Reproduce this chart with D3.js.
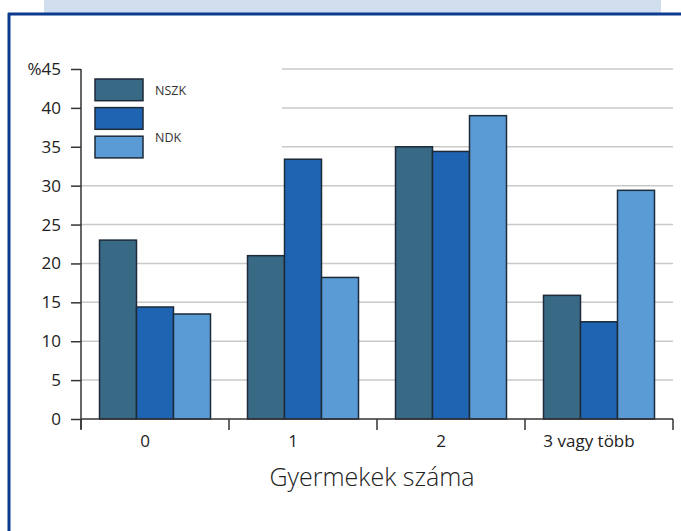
<!DOCTYPE html>
<html>
<head>
<meta charset="utf-8">
<script src="https://cdn.jsdelivr.net/npm/d3@7"></script>
<style>
  html, body { margin: 0; padding: 0; background: #fff; }
  svg { display: block; }
  text { font-family: "Open Sans", "Noto Sans", sans-serif; }
</style>
</head>
<body>
<svg id="chart" width="681" height="531"></svg>
<script>
// ---- data ----
const categories = ["0", "1", "2", "3 vagy több"];
const seriesNames = ["NSZK", "", "NDK"];
const nszk   = [23, 21, 35, 15.9];
const middle = [14.4, 33.4, 34.4, 12.5];
const ndk    = [13.5, 18.2, 39, 29.4];
const yTicks = [0, 5, 10, 15, 20, 25, 30, 35, 40, 45];
const yTickLabels = ["0", "5", "10", "15", "20", "25", "30", "35", "40", "%45"];
const xTitle = "Gyermekek száma";

const series = [nszk, middle, ndk];
const colors = ["#386985", "#1f64b2", "#5a9bd6"];

const svg = d3.select("#chart");

// decorative frame
svg.append("rect").attr("x", 44).attr("y", 0).attr("width", 617).attr("height", 13).attr("fill", "#d1deed");
svg.append("line").attr("x1", 8).attr("x2", 681).attr("y1", 14).attr("y2", 14)
  .attr("stroke", "#0c3a8e").attr("stroke-width", 3);
svg.append("line").attr("x1", 9).attr("x2", 9).attr("y1", 13).attr("y2", 531)
  .attr("stroke", "#0c3a8e").attr("stroke-width", 3);

const x0 = 81, x1 = 673, yBase = 419, yTop = 69;
const x = d3.scaleBand().domain(categories).range([x0, x1]).paddingInner(0.25).paddingOuter(0.125);
const xs = d3.scaleBand().domain(d3.range(series.length)).range([0, x.bandwidth()]);
const y = d3.scaleLinear().domain([0, 45]).range([yBase, yTop]);

// gridlines
const legendRight = 282;
svg.append("g").selectAll("line").data(yTicks.filter(t => t > 0)).join("line")
  .attr("x1", d => d >= 35 ? legendRight : x0)
  .attr("x2", x1)
  .attr("y1", d => y(d)).attr("y2", d => y(d))
  .attr("stroke", "#c9c9c9").attr("stroke-width", 1.5);

// bars
const groups = svg.append("g").selectAll("g").data(categories).join("g")
  .attr("transform", d => `translate(${x(d)},0)`);
groups.selectAll("rect").data((d, i) => series.map((s, k) => ({k, v: s[i]}))).join("rect")
  .attr("x", d => xs(d.k))
  .attr("width", xs.bandwidth())
  .attr("y", d => y(d.v))
  .attr("height", d => yBase - y(d.v))
  .attr("fill", d => colors[d.k])
  .attr("stroke", "#1d2a38").attr("stroke-width", 1.5);

// y axis
const yAxis = d3.axisLeft(y).tickValues(yTicks).tickSize(10)
  .tickFormat((d, i) => yTickLabels[i]).tickPadding(10);
const gy = svg.append("g").attr("transform", `translate(${x0},0)`).call(yAxis);
gy.select(".domain").remove();
gy.append("line").attr("x1", 0).attr("x2", 0).attr("y1", yTop).attr("y2", yBase + 10)
  .attr("stroke", "#333").attr("stroke-width", 1.5);
gy.selectAll(".tick line").attr("stroke", "#333").attr("stroke-width", 1.5);
gy.selectAll(".tick text").attr("font-size", 17).attr("fill", "#222");

// x axis
const xTickScale = d3.scaleLinear().domain([0, categories.length]).range([x0, x1]);
const gx = svg.append("g");
gx.append("line").attr("x1", x0).attr("x2", x1).attr("y1", yBase).attr("y2", yBase)
  .attr("stroke", "#333").attr("stroke-width", 1.5);
gx.selectAll("line.t").data(d3.range(categories.length + 1)).join("line").attr("class", "t")
  .attr("x1", d => xTickScale(d)).attr("x2", d => xTickScale(d))
  .attr("y1", yBase).attr("y2", yBase + 11)
  .attr("stroke", "#333").attr("stroke-width", 1.5);
gx.selectAll("text").data(categories).join("text")
  .attr("x", d => x(d) + x.bandwidth() / 2 - 10).attr("y", 447)
  .attr("text-anchor", "middle").attr("font-size", 17).attr("fill", "#222")
  .text(d => d);

svg.append("text").attr("x", (x0 + x1) / 2 - 5).attr("y", 486)
  .attr("text-anchor", "middle").attr("font-size", 25).attr("font-weight", 300).attr("fill", "#222")
  .text(xTitle);

// legend
const lg = svg.append("g");
const swTop = 79, swStep = 28.6, swH = 21.7;
lg.selectAll("rect").data(colors).join("rect")
  .attr("x", 95).attr("y", (d, i) => swTop + i * swStep)
  .attr("width", 48).attr("height", swH)
  .attr("fill", d => d).attr("stroke", "#1d2a38").attr("stroke-width", 1.5);
const labelRows = [0.06, 1, 1.69];
lg.selectAll("text").data(seriesNames).join("text")
  .attr("x", 155).attr("y", (d, i) => swTop + labelRows[i] * swStep + 11)
  .attr("dominant-baseline", "middle")
  .attr("font-size", 12.5).attr("fill", "#333")
  .text(d => d);
</script>
</body>
</html>
